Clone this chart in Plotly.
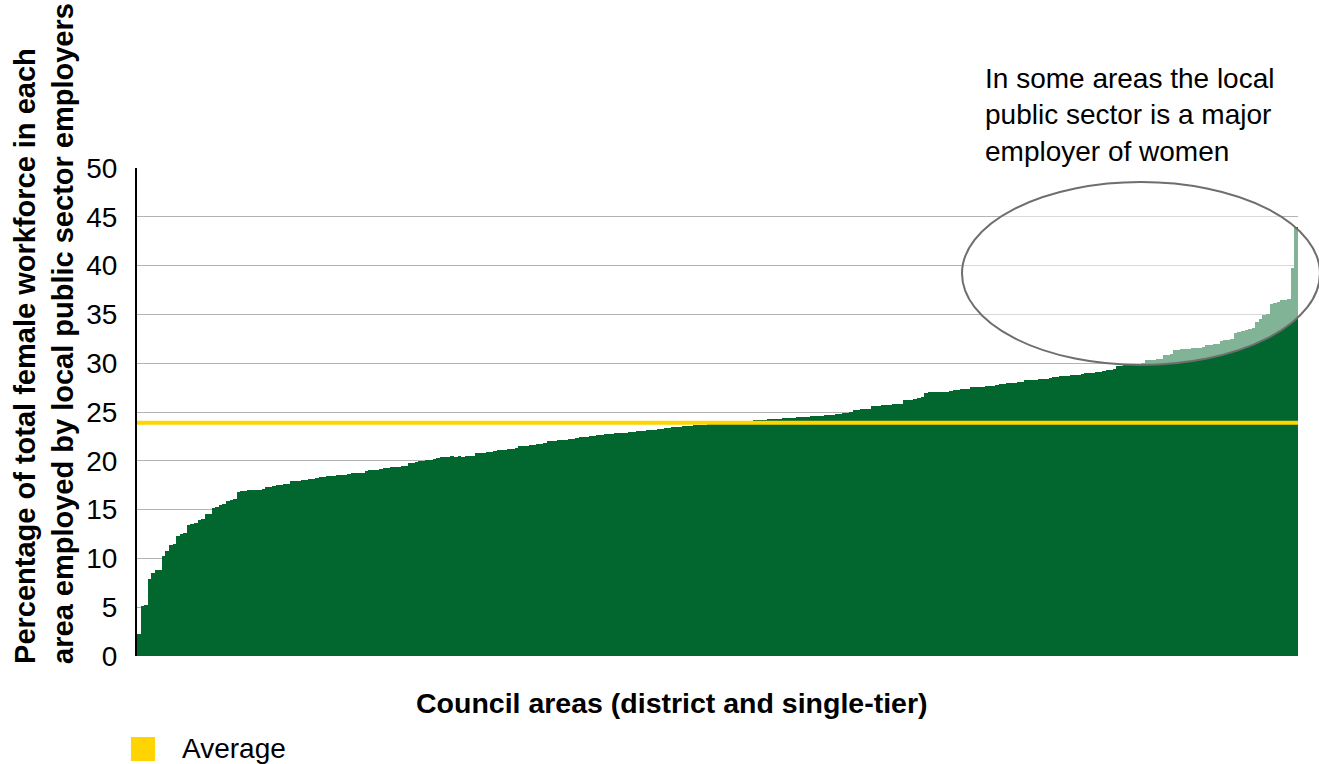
import plotly.graph_objects as go

# Share of each council's female workforce employed by local public sector bodies (%),
# one value per council area, sorted from lowest to highest.
share_low = [
    2.3, 5.1, 5.2, 7.9, 8.5, 8.8, 8.8, 10.2, 10.75, 11.4,
    11.5, 12.3, 12.5, 12.6, 13.4, 13.5, 13.6, 13.9, 14.0, 14.5,
    14.6, 15.2, 15.3, 15.5, 15.6, 15.9, 16.0, 16.1, 16.85, 16.95,
    16.95, 17.0, 17.0, 17.0, 17.05, 17.1, 17.3, 17.3, 17.4, 17.5,
    17.55, 17.6, 17.6, 17.9, 17.9, 17.95, 18.0, 18.05, 18.1, 18.1,
    18.2, 18.3, 18.35, 18.4, 18.4, 18.45, 18.5, 18.5, 18.55, 18.6,
    18.75, 18.75, 18.8, 18.8, 19.0, 19.05, 19.1, 19.1, 19.2, 19.3,
    19.3, 19.35, 19.4, 19.4, 19.45, 19.5, 19.8, 19.8, 19.9, 20.0,
    20.0, 20.05, 20.1,
]
share_mid = [
    20.2, 20.3, 20.35, 20.4, 20.4, 20.45, 20.4, 20.45,
    20.4, 20.45, 20.5, 20.5,
    20.8, 20.8, 20.85, 20.9, 20.9, 21.0,
    21.1, 21.1, 21.15, 21.2, 21.2, 21.3,
    21.5, 21.5, 21.55, 21.6, 21.6, 21.7, 21.75, 21.8,
    22.0, 22.0, 22.05, 22.1, 22.1, 22.15, 22.2, 22.2,
    22.3, 22.4, 22.4, 22.45, 22.5, 22.5, 22.6,
    22.65, 22.7, 22.7, 22.75, 22.8, 22.8, 22.85, 22.9,
    23.0, 23.0, 23.05, 23.1, 23.1, 23.15, 23.2, 23.2,
    23.3, 23.3, 23.35, 23.4, 23.45, 23.5, 23.5,
    23.6, 23.6, 23.6, 23.65, 23.7, 23.7, 23.7, 23.75, 23.75, 23.8,
    23.8, 23.8, 23.85, 23.85, 23.9, 23.9, 23.9, 23.95,
    24.1, 24.1, 24.15, 24.15, 24.2, 24.2, 24.25, 24.25, 24.3, 24.3,
    24.35, 24.35, 24.4, 24.4, 24.45, 24.45, 24.5, 24.5, 24.55, 24.55,
    24.6, 24.6, 24.65, 24.7, 24.7, 24.75, 24.8, 24.85, 24.9, 25.0,
    25.25, 25.25, 25.3, 25.3, 25.35,
    25.6, 25.6, 25.65, 25.7, 25.7, 25.75, 25.8, 25.8, 25.85,
    26.2, 26.2, 26.25, 26.3, 26.4, 26.5,
]
share_high = [
    26.9, 27.0, 27.0, 27.05, 27.05, 27.1, 27.1, 27.15,
    27.3, 27.3, 27.35, 27.35, 27.4,
    27.55, 27.55, 27.6, 27.6, 27.65, 27.7, 27.7, 27.75,
    27.9, 27.9, 27.95, 28.0, 28.0, 28.05, 28.1,
    28.25, 28.25, 28.3, 28.3, 28.35, 28.4, 28.4, 28.45,
    28.6, 28.6, 28.65, 28.7, 28.7, 28.75, 28.8, 28.8,
    28.9, 28.95, 29.0, 29.0, 29.05, 29.1,
    29.25, 29.3, 29.35, 29.4,
    29.7, 29.75, 29.8, 29.85, 29.9, 29.9, 29.95, 30.0,
    30.3, 30.3, 30.35, 30.4, 30.45,
    30.8, 30.85, 30.9,
    31.4, 31.4, 31.45, 31.5, 31.5, 31.55, 31.6, 31.6, 31.65,
    31.85, 31.9, 31.95, 32.0,
    32.3, 32.35, 32.4, 32.45,
    33.1, 33.2, 33.3, 33.4, 33.5, 33.6,
    34.2, 34.5, 34.9, 35.0,
    36.1, 36.2, 36.3, 36.5, 36.5, 36.6,
    39.8, 44.0,
]
shares = share_low + share_mid + share_high
councils = list(range(1, len(shares) + 1))

average_share = 23.9
y_ticks = [0, 5, 10, 15, 20, 25, 30, 35, 40, 45, 50]

y_title = ("Percentage of total female workforce in each<br>"
           "area employed by local public sector employers")
x_title = "Council areas (district and single-tier)"
note = "In some areas the local<br>public sector is a major<br>employer of women"
legend_label = "Average"

GREEN = "#02662F"
YELLOW = "#FFD400"
FONT = "Liberation Sans, Arial, Helvetica, sans-serif"

fig = go.Figure()
fig.add_trace(go.Bar(
    x=councils, y=shares,
    marker=dict(color=GREEN, line=dict(width=0)),
    hoverinfo="y", showlegend=False,
))

# Average line drawn over the bars
fig.add_shape(type="line", xref="paper", yref="y",
              x0=0, x1=1, y0=average_share, y1=average_share,
              line=dict(color=YELLOW, width=4), layer="above")

# Highlight ellipse over the highest-share councils
fig.add_shape(type="circle", xref="paper", yref="paper",
              x0=0.7106, x1=1.0189, y0=0.5963, y1=0.9713,
              line=dict(color="#6e6e6e", width=2),
              fillcolor="rgba(255,255,255,0.5)", layer="above")

# Legend swatch
fig.add_shape(type="rect", xref="paper", yref="paper",
              x0=-0.0052, x1=0.0155, y0=-0.2152, y1=-0.166,
              line=dict(width=0), fillcolor=YELLOW)

fig.add_annotation(text=legend_label, xref="paper", yref="paper",
                   x=0.037, y=-0.1886, xanchor="left", yanchor="middle",
                   showarrow=False, font=dict(size=28, color="#000", family=FONT))

fig.add_annotation(text=note, xref="paper", yref="paper",
                   x=0.7285, y=1.1086, xanchor="left", yanchor="middle",
                   align="left", showarrow=False,
                   font=dict(size=28, color="#000", family=FONT))

fig.add_annotation(text=f"<b>{x_title}</b>", xref="paper", yref="paper",
                   x=0.4608, y=-0.0963, xanchor="center", yanchor="middle",
                   showarrow=False, font=dict(size=28.5, color="#000", family=FONT))

fig.add_annotation(text=f"<b>{y_title}</b>", xref="paper", yref="paper",
                   x=-0.0797, y=0.661, xanchor="center", yanchor="middle",
                   textangle=-90, align="left", showarrow=False,
                   font=dict(size=29, color="#000", family=FONT))

fig.update_layout(
    width=1319, height=764,
    margin=dict(l=137, r=21, t=168, b=108),
    paper_bgcolor="white", plot_bgcolor="white",
    bargap=0,
    font=dict(family=FONT, size=28, color="#000"),
    xaxis=dict(range=[0.5, len(shares) + 0.5], showticklabels=False,
               showgrid=False, zeroline=False, showline=False, ticks=""),
    yaxis=dict(range=[0, 50], tickvals=y_ticks, showgrid=True,
               gridcolor="#b3b3b3", gridwidth=1, zeroline=False,
               showline=True, linecolor="#000", linewidth=2,
               ticks="", ticklabelstandoff=12,
               tickfont=dict(size=28, family=FONT, color="#000")),
)

fig.write_html("out.html")
